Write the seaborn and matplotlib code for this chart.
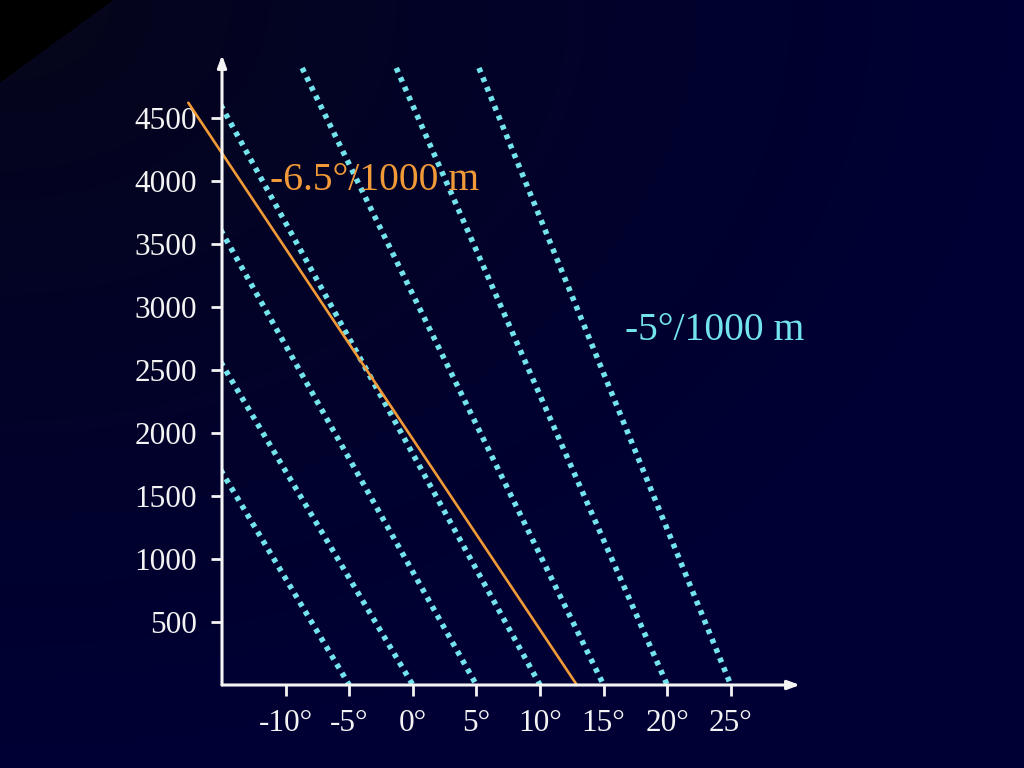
import numpy as np
import pandas as pd
import matplotlib
matplotlib.use("Agg")
import matplotlib.pyplot as plt
import seaborn as sns

# ---- data ----
# dotted -5°/1000 m lines: start (temperature, height) -> end (temperature, height)
dry_start_T = [-15.1, -15.1, -15.1, -15.1, -8.7, -1.3, 5.2]
dry_start_h = [1706, 2563, 3611, 4603, 4897, 4897, 4897]
dry_end_T = [-5, 0, 5, 10, 15, 20, 25]
dry_end_h = [0, 0, 0, 0, 0, 0, 0]
# solid -6.5°/1000 m line
env_T = [-17.65, 12.9]
env_h = [4621, 0]

x_ticks = [-10, -5, 0, 5, 10, 15, 20, 25]
x_tick_labels = ["-10°", "-5°", "0°", "5°", "10°", "15°", "20°", "25°"]
y_ticks = [500, 1000, 1500, 2000, 2500, 3000, 3500, 4000, 4500]
y_tick_labels = [str(v) for v in y_ticks]

label_env = "-6.5°/1000 m"
label_dry = "-5°/1000 m"

# ---- styling ----
sns.set_theme(style="white")
plt.rcParams["font.family"] = ["Liberation Serif", "DejaVu Serif"]

CYAN = "#74E4EC"
ORANGE = "#F29A38"
WHITE = "#F4F4F4"

fig = plt.figure(figsize=(10.24, 7.68), dpi=100)

# background gradient
bg = fig.add_axes([0, 0, 1, 1])
H, W = 768, 1024
yy, xx = np.mgrid[0:H, 0:W]
r = np.sqrt((xx * 1.0) ** 2 + (yy * 1.35) ** 2)
t = np.clip((r - 110) / 900.0, 0, 1) ** 0.8
c0 = np.array([5, 5, 28]) / 255.0
c1 = np.array([0, 0, 52]) / 255.0
img = c0[None, None, :] * (1 - t[..., None]) + c1[None, None, :] * t[..., None]
black = (xx / 112.0 + yy / 82.0) < 1.0
img[black] = 0.0
bg.imshow(img, aspect="auto", extent=[0, 1, 0, 1], origin="upper")
bg.axis("off")

# main axes
ax = fig.add_axes([222 / 1024, 1 - 685 / 768, (800 - 222) / 1024, (685 - 55) / 768])
ax.patch.set_alpha(0)

rows = []
for i in range(len(dry_start_T)):
    rows.append({"line": i, "T": dry_start_T[i], "h": dry_start_h[i]})
    rows.append({"line": i, "T": dry_end_T[i], "h": dry_end_h[i]})
df_dry = pd.DataFrame(rows)
df_env = pd.DataFrame({"T": env_T, "h": env_h})

sns.lineplot(data=df_dry, x="T", y="h", units="line", estimator=None, sort=False,
             color=CYAN, linewidth=4.0, linestyle=(0, (0.85, 1.0)),
             dash_capstyle="butt", ax=ax)
sns.lineplot(data=df_env, x="T", y="h", estimator=None, sort=False,
             color=ORANGE, linewidth=1.9, ax=ax, clip_on=False)

ax.set_xlim(-15, 30.44)
ax.set_ylim(0, 5000)
ax.set_xticks(x_ticks)
ax.set_xticklabels(x_tick_labels)
ax.set_yticks(y_ticks)
ax.set_yticklabels(y_tick_labels)
ax.set_xlabel("")
ax.set_ylabel("")
for s in ax.spines.values():
    s.set_visible(False)
ax.tick_params(axis="both", colors=WHITE, labelcolor=WHITE, labelsize=22.5,
               length=8, width=2.0, direction="out", pad=9)
ax.tick_params(axis="y", pad=10)
ax.tick_params(bottom=True, left=True)

# axis arrows
arrow_kw = dict(arrowstyle="-|>,head_length=0.6,head_width=0.22", color=WHITE,
                lw=2.2, shrinkA=0, shrinkB=0)
ax.annotate("", xy=(0, 1), xytext=(0, 0), xycoords="axes fraction",
            textcoords="axes fraction", arrowprops=arrow_kw, annotation_clip=False)
ax.annotate("", xy=(1, 0), xytext=(0, 0), xycoords="axes fraction",
            textcoords="axes fraction", arrowprops=arrow_kw, annotation_clip=False)

# labels
fig.text(270 / 1024, 1 - 180 / 768, label_env, color=ORANGE, fontsize=28.5,
         ha="left", va="center")
fig.text(625 / 1024, 1 - 330 / 768, label_dry, color=CYAN, fontsize=28.5,
         ha="left", va="center")

fig.savefig("out.png", dpi=100)
